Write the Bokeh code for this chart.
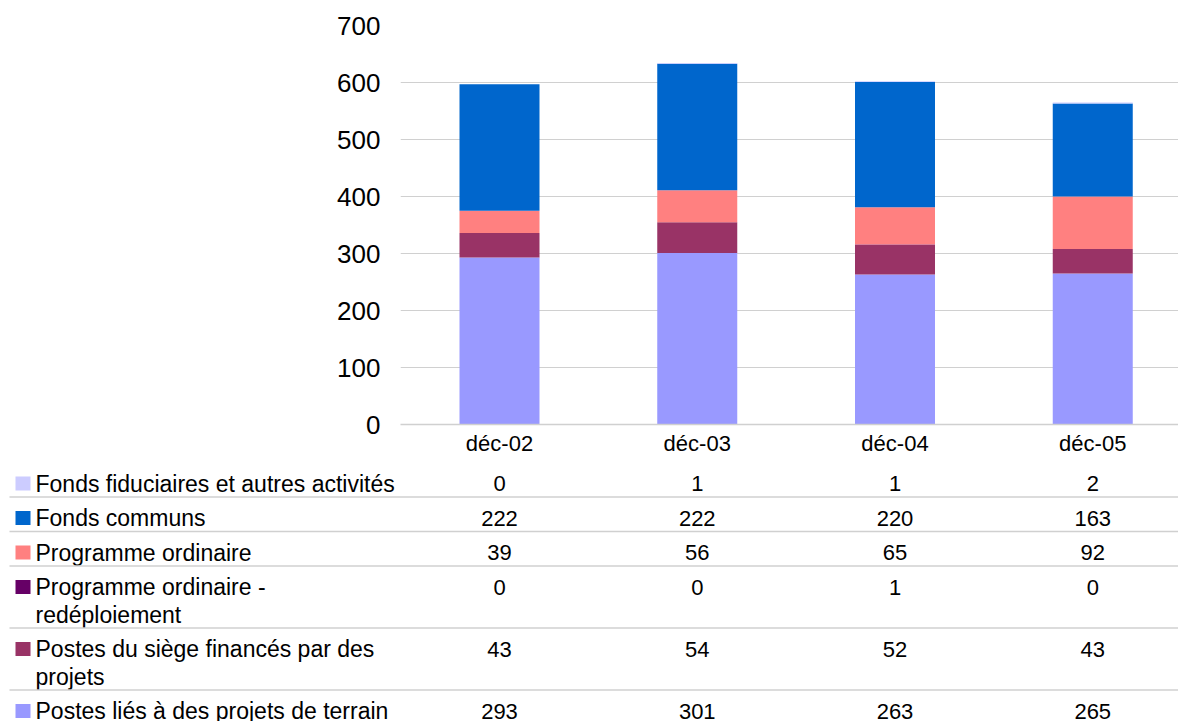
from bokeh.plotting import figure
from bokeh.models import Range1d, FixedTicker, ColumnDataSource
from bokeh.core.properties import value
from bokeh.embed import file_html
from bokeh.resources import INLINE

# ---------------- data ----------------
categories = ["déc-02", "déc-03", "déc-04", "déc-05"]
series_names = [
    "Fonds fiduciaires et autres activités",
    "Fonds communs",
    "Programme ordinaire",
    "Programme ordinaire -\nredéploiement",
    "Postes du siège financés par des\nprojets",
    "Postes liés à des projets de terrain",
]
fiduciaires = [0, 1, 1, 2]
communs = [222, 222, 220, 163]
ordinaire = [39, 56, 65, 92]
redeploiement = [0, 0, 1, 0]
siege = [43, 54, 52, 43]
terrain = [293, 301, 263, 265]
y_ticks = [0, 100, 200, 300, 400, 500, 600, 700]

colors = ["#ccccff", "#0066cc", "#ff8080", "#660066", "#993366", "#9999ff"]
table_values = [fiduciaires, communs, ordinaire, redeploiement, siege, terrain]

FONT = "Liberation Sans"
GRID = "#d0d0d0"

# ---------------- geometry (page pixels) ----------------
SPACING = 197.75        # px per category
X0 = 499                # page x of the first category centre
FIG_W = 1178
CHART_H = 462
TABLE_H = 259
FRAME_LEFT = 400
FRAME_TOP = 25
FRAME_BOTTOM = 424
FRAME_W = FIG_W - FRAME_LEFT

# ---------------- chart ----------------
src = ColumnDataSource(dict(
    x=list(range(len(categories))),
    terrain=terrain, siege=siege, redeploiement=redeploiement,
    ordinaire=ordinaire, communs=communs, fiduciaires=fiduciaires,
))
stack_keys = ["terrain", "siege", "redeploiement", "ordinaire", "communs", "fiduciaires"]
stack_colors = [colors[5], colors[4], colors[3], colors[2], colors[1], colors[0]]

x_start = -(X0 - FRAME_LEFT) / SPACING
x_end = x_start + FRAME_W / SPACING

p = figure(width=FIG_W, height=CHART_H, output_backend="svg", toolbar_location=None,
           x_range=Range1d(x_start, x_end), y_range=Range1d(0, 700),
           min_border_left=FRAME_LEFT, min_border_right=0,
           min_border_top=FRAME_TOP, min_border_bottom=CHART_H - FRAME_BOTTOM)
p.outline_line_color = None
p.xgrid.grid_line_color = None
p.ygrid.grid_line_color = GRID
p.ygrid.grid_line_width = 1

p.vbar_stack(stack_keys, x="x", width=80 / SPACING, source=src,
             fill_color=stack_colors, line_color=None)

p.yaxis.ticker = FixedTicker(ticks=y_ticks)
p.yaxis.axis_line_color = None
p.yaxis.major_tick_line_color = None
p.yaxis.minor_tick_line_color = None
p.yaxis.major_tick_out = 0
p.yaxis.minor_tick_out = 0
p.yaxis.major_label_standoff = 20
p.yaxis.major_label_text_font = FONT
p.yaxis.major_label_text_font_size = "26px"
p.yaxis.major_label_text_color = "#000000"

p.xaxis.ticker = FixedTicker(ticks=list(range(len(categories))))
p.xaxis.major_label_overrides = {i: c for i, c in enumerate(categories)}
p.xaxis.axis_line_color = GRID
p.xaxis.axis_line_width = 1.5
p.xaxis.major_tick_line_color = None
p.xaxis.minor_tick_line_color = None
p.xaxis.major_tick_out = 0
p.xaxis.minor_tick_out = 0
p.xaxis.major_label_standoff = 6
p.xaxis.major_label_text_font = FONT
p.xaxis.major_label_text_font_size = "22px"
p.xaxis.major_label_text_color = "#000000"

# ---------------- data table ----------------
PAGE_TOP = CHART_H
PAGE_BOTTOM = PAGE_TOP + TABLE_H
t = figure(width=FIG_W, height=TABLE_H, output_backend="svg", toolbar_location=None,
           x_range=Range1d(-X0 / SPACING, (FIG_W - X0) / SPACING),
           y_range=Range1d(PAGE_BOTTOM, PAGE_TOP),
           x_axis_type=None, y_axis_type=None,
           min_border_left=0, min_border_right=0,
           min_border_top=0, min_border_bottom=0)
t.outline_line_color = None
t.xgrid.visible = False
t.ygrid.visible = False


def page_x(px):
    return (px - X0) / SPACING


LINE_H = 27.5
PAD = 7
BASE_OFF = 21
label_x = page_x(35)
square_x = page_x(22.5)
line_x0 = page_x(9)
line_x1 = page_x(1185)

row_top = PAGE_TOP
lx, ly, ltext = [], [], []
vx, vy, vtext = [], [], []
sq_y = []
sep_y = []
for name, vals in zip(series_names, table_values):
    lines = name.split("\n")
    base = row_top + BASE_OFF
    for k, ln in enumerate(lines):
        lx.append(label_x)
        ly.append(base + k * LINE_H)
        ltext.append(ln)
    for i, v in enumerate(vals):
        vx.append(i)
        vy.append(base)
        vtext.append(str(v))
    sq_y.append(row_top + 21)
    row_top += PAD + LINE_H * len(lines)
    sep_y.append(row_top)

t.rect(x=[square_x] * len(sq_y), y=sq_y, width=15, height=14,
       width_units="screen", height_units="screen",
       fill_color=colors, line_color=None)
t.text(x=lx, y=ly, text=ltext, text_font=value(FONT), text_font_size="23px",
       text_baseline="alphabetic", text_align="left", text_color="#000000")
t.text(x=vx, y=vy, text=vtext, text_font=value(FONT), text_font_size="22px",
       text_baseline="alphabetic", text_align="center", text_color="#000000")
t.segment(x0=[line_x0] * len(sep_y), y0=sep_y, x1=[line_x1] * len(sep_y), y1=sep_y,
          line_color=GRID, line_width=1.5)

open("out.html", "w").write(file_html([p, t], INLINE))
